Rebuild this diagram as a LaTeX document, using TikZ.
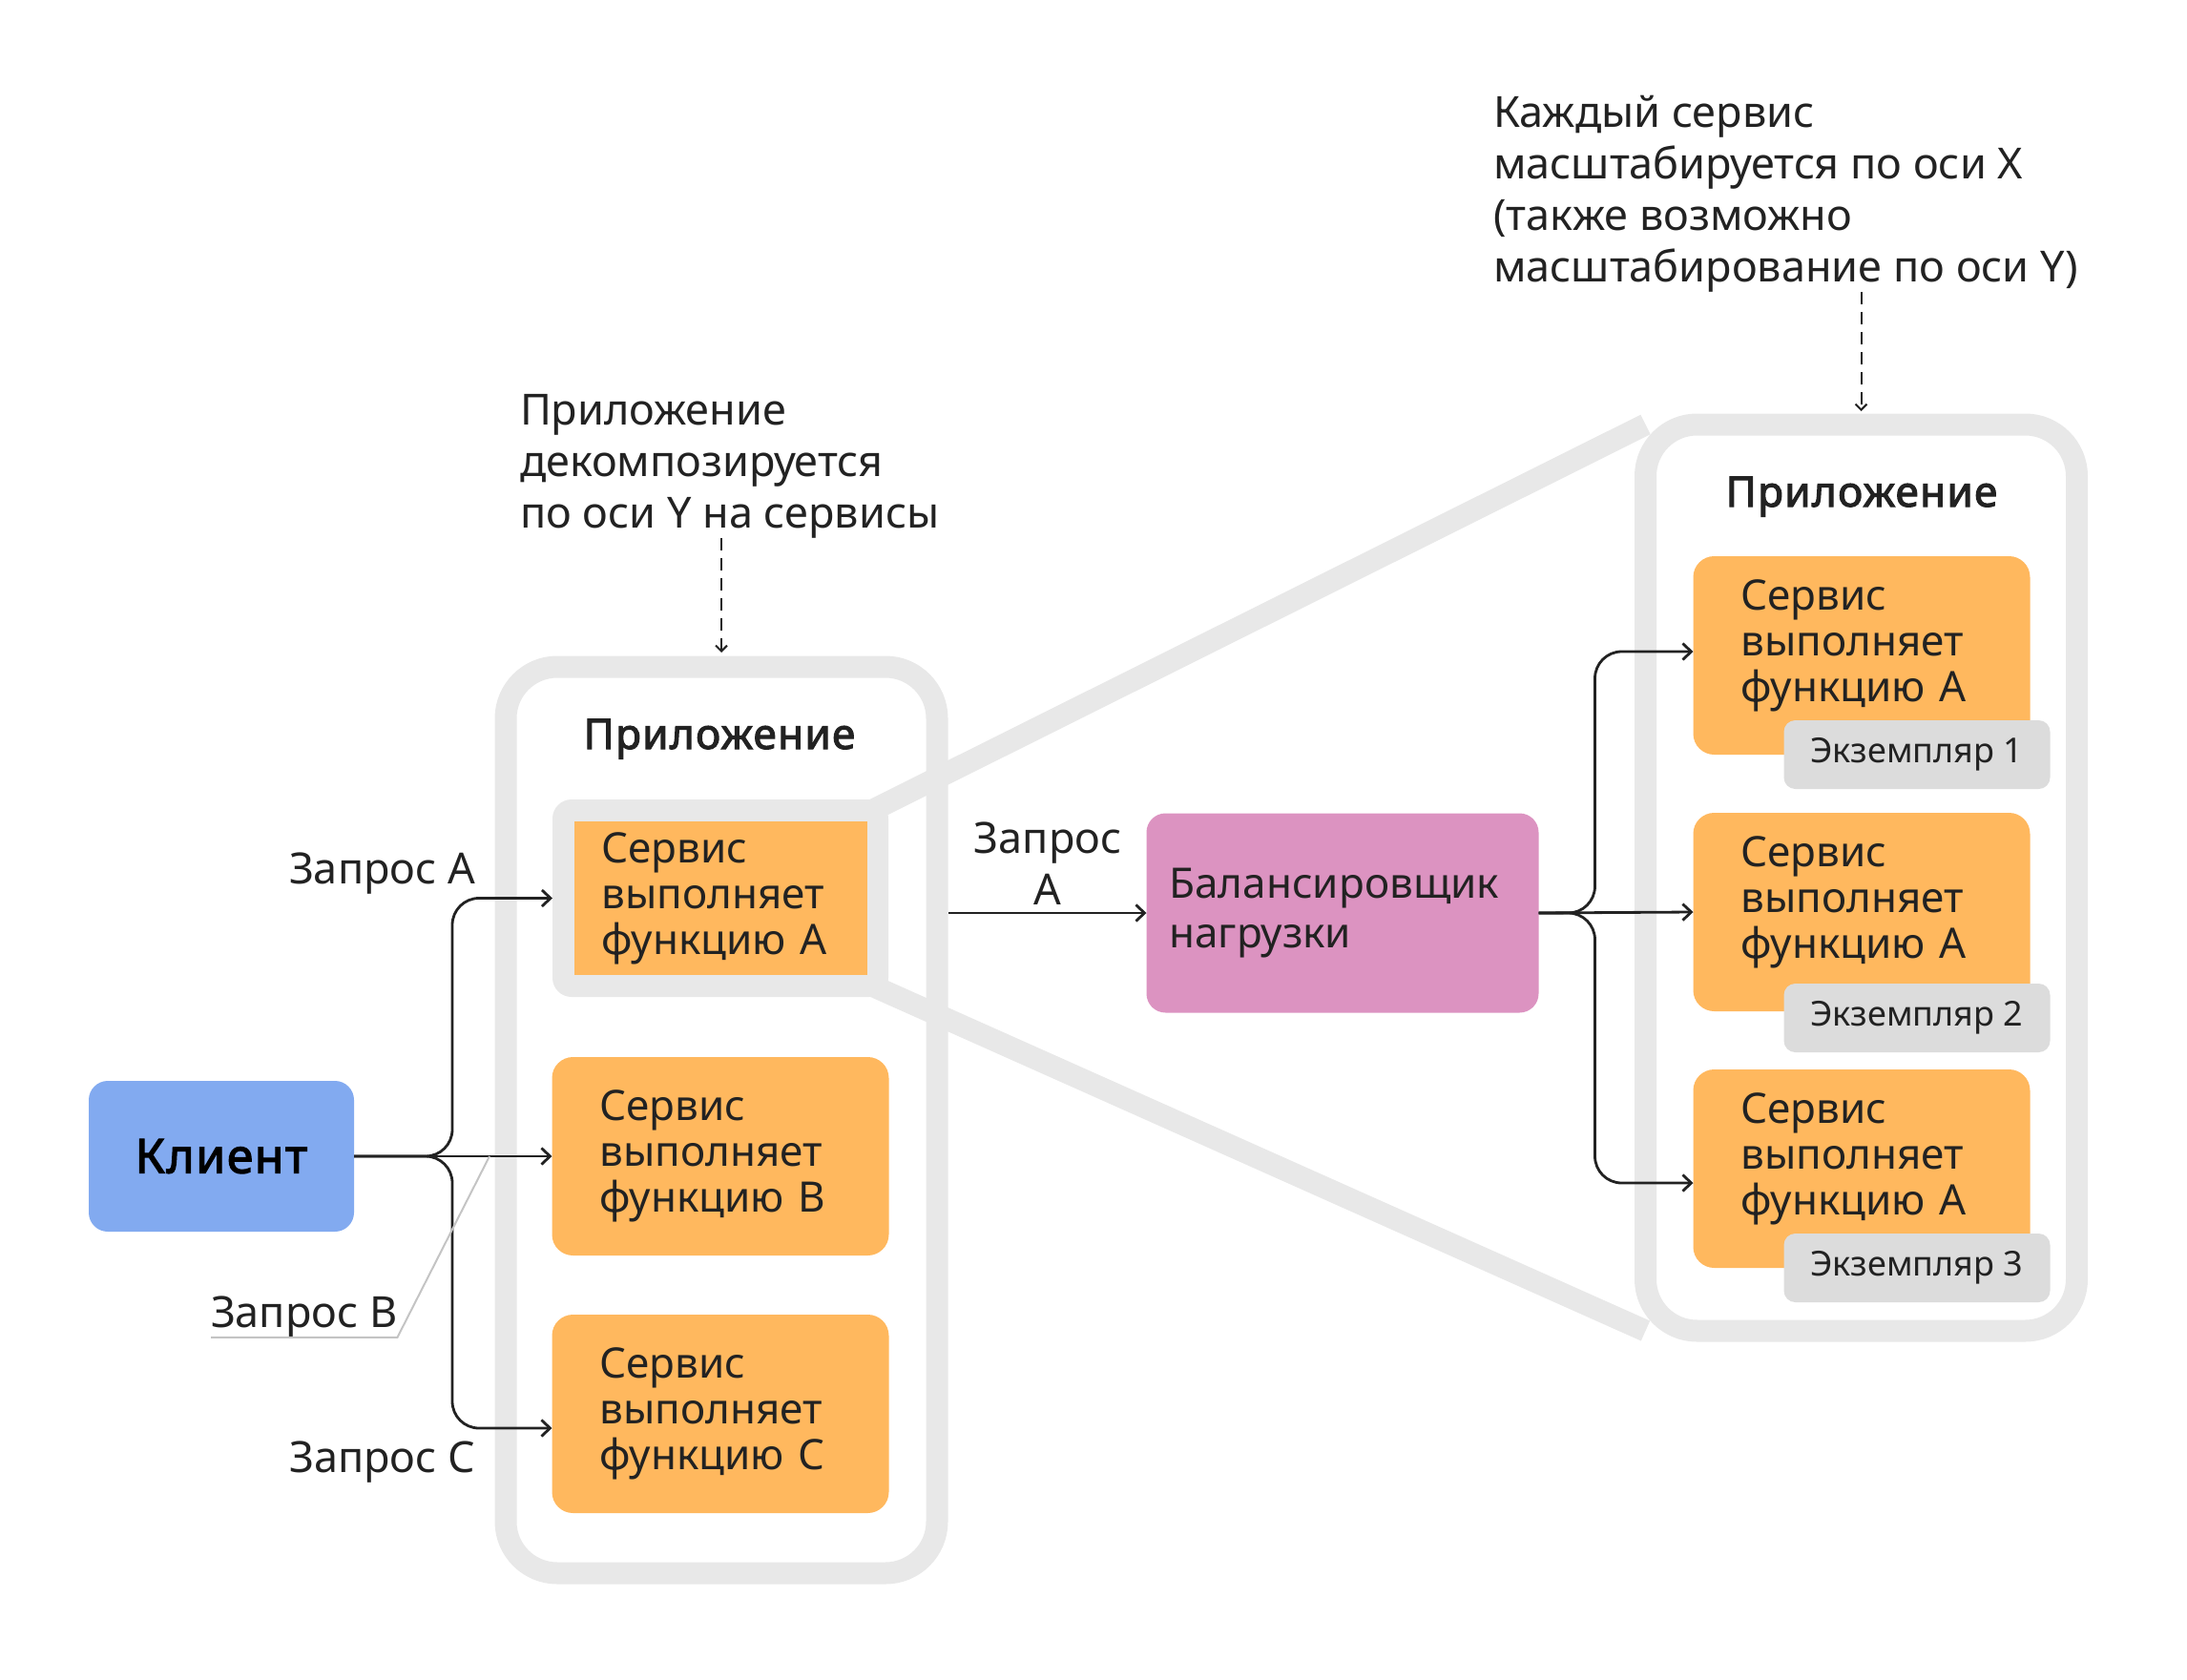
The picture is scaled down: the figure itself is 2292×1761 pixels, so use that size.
\documentclass[tikz,border=0pt]{standalone}
\usepackage{fontspec}
\setmainfont{Noto Sans}
\newfontfamily\heavyfont{Noto Sans}[FakeBold=2.5, LetterSpace=3]
\usetikzlibrary{positioning,calc,arrows.meta,backgrounds}
\definecolor{svcorange}{HTML}{FFB85E}
\definecolor{clientblue}{HTML}{82AAF0}
\definecolor{lbpink}{HTML}{DC93C1}
\definecolor{framegray}{HTML}{E8E8E8}
\definecolor{instgray}{HTML}{DCDCDC}
\definecolor{ink}{HTML}{222222}
\definecolor{leadergray}{HTML}{C4C4C4}
\newcommand{\boxfont}{\fontsize{44}{48}\selectfont}
\newcommand{\notefont}{\fontsize{45}{54}\selectfont}
\newcommand{\svctext}{Сервис\\выполняет\\функцию A\par\vspace{20pt}}

\begin{document}
\begin{tikzpicture}[x=1pt, y=-1pt,
    every node/.style={inner sep=0pt, outer sep=0pt, text=ink},
    frame/.style={draw=framegray, line width=23pt, rounded corners=54pt,
      minimum width=452pt, minimum height=950pt},
    zoomline/.style={draw=framegray, line width=23pt},
    hilite/.style={fill=framegray, rounded corners=20pt,
      minimum width=352pt, minimum height=207pt},
    svc/.style={fill=svcorange, rounded corners=22pt, align=left, font=\boxfont,
      text width=253pt, inner xsep=50pt, minimum height=208pt},
    inst/.style={fill=instgray, rounded corners=12pt, font=\fontsize{36}{40}\selectfont,
      minimum width=279pt, minimum height=72pt},
    hdr/.style={font=\heavyfont\fontsize{44}{48}\selectfont},
    lbl/.style={font=\fontsize{45}{54}\selectfont},
    note/.style={align=left, font=\notefont},
    flow/.style={draw=ink, line width=2.8pt, rounded corners=28pt,
      -{Straight Barb[length=9pt, width=17pt]}},
    hint/.style={draw=ink, line width=2pt, dash pattern=on 13pt off 8pt,
      -{Straight Barb[length=6pt, width=12pt]}},
    leader/.style={draw=leadergray, line width=2pt}]
  \useasboundingbox (0,0) rectangle (2292,1761);

  \node[frame] (appL) at (756,1174) {};
  \node[hdr, anchor=base] (hdrL) at (754,785) {Приложение};
  \node[hilite] (hlA) at (755,941.5) {};
  \node[svc, rounded corners=0pt, text width=249pt, inner xsep=29pt, minimum height=161pt] (svcA) at (hlA)
    {Сервис\\выполняет\\функцию A};
  \node[svc, below=63pt of hlA] (svcB) {Сервис\\выполняет\\функцию B};
  \node[svc, below=62pt of svcB] (svcC) {Сервис\\выполняет\\функцию C};

  \node[fill=clientblue, rounded corners=20pt, minimum width=278pt, minimum height=158pt,
    font=\heavyfont\fontsize{50}{56}\selectfont, text=black] (client) at (232,1212) {Клиент};

  \node[lbl, anchor=base east] (reqA) at (498,926) {Запрос A};
  \node[lbl, anchor=base west] (reqB) at (221,1391) {Запрос B};
  \node[lbl, anchor=base east] (reqC) at (498,1543) {Запрос C};

  \coordinate[right=103pt of client.east] (forkL);
  \draw[flow] (client.east) -- (forkL) |- (hlA.west);
  \draw[flow] (client.east) -- (svcB.west);
  \draw[flow] (client.east) -- (forkL) |- ([yshift=-15pt]svcC.west);
  \coordinate (tapB) at (513,1212);
  \draw[leader] (reqB.south west) -- (reqB.south east) -- (tapB);

  \node[fill=lbpink, rounded corners=20pt, align=left, font=\fontsize{44}{52}\selectfont,
    text width=363pt, inner xsep=24pt, minimum height=209pt] (lb) at (1407,957)
    {Балансировщик\\нагрузки};
  \coordinate (reqStart) at (994,957);
  \draw[flow] (reqStart) -- (lb.west);
  \node[lbl, align=center, anchor=base] (reqLb) at (1098,948) {Запрос\\A};

  \node[frame, fill=white] (appR) at (1950.5,920) {};
  \node[hdr, anchor=base] (hdrR) at (1951,531) {Приложение};
  \node[svc] (svc1) at (1951,687) {\svctext};
  \node[svc, below=61pt of svc1] (svc2) {\svctext};
  \node[svc, below=61pt of svc2] (svc3) {\svctext};
  \node[inst, anchor=east] (inst1) at ([xshift=21pt]svc1.south east) {Экземпляр 1};
  \node[inst, anchor=east] (inst2) at ([xshift=21pt,yshift=-7pt]svc2.south east) {Экземпляр 2};
  \node[inst, anchor=east] (inst3) at ([xshift=21pt]svc3.south east) {Экземпляр 3};

  \coordinate[right=59pt of lb.east] (forkR);
  \draw[flow] (lb.east) -- (forkR) |- ([yshift=4pt]svc1.west);
  \draw[flow] (lb.east) -- (svc2.west);
  \draw[flow] (lb.east) -- (forkR) |- ([yshift=-15pt]svc3.west);

  \begin{scope}[on background layer]
    \coordinate (zoomTop) at ([shift={(-22,14)}]hlA.north east);
    \coordinate (zoomBot) at ([shift={(-22,-14)}]hlA.south east);
    \draw[zoomline] (zoomTop) -- (appR.north west);
    \draw[zoomline] (zoomBot) -- (appR.south west);
  \end{scope}

  \node[note, anchor=base west] (noteL) at (545,553)
    {Приложение\\декомпозируется\\по оси Y на сервисы};
  \node[note, anchor=base west] (noteR) at (1565,295)
    {Каждый сервис\\масштабируется по оси X\\(также возможно\\масштабирование по оси Y)};
  \draw[hint] (noteL.south -| appL.north) -- ([yshift=15pt]appL.north);
  \draw[hint] (noteR.south -| appR.north) -- ([yshift=14pt]appR.north);
\end{tikzpicture}
\end{document}
